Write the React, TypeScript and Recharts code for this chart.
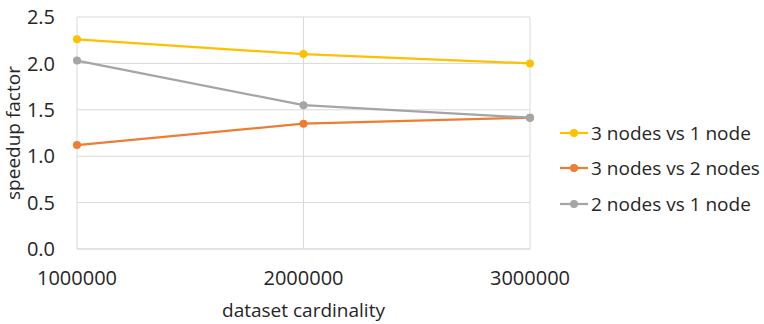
import React from 'react';
import { LineChart, Line, XAxis, YAxis, CartesianGrid, Label } from 'recharts';

// dataset sizes on the x axis
const cardinalities = ['1000000', '2000000', '3000000'];

// speedup per comparison
const threeVsOne = [2.26, 2.1, 2.0];
const threeVsTwo = [1.12, 1.35, 1.415];
const twoVsOne = [2.03, 1.55, 1.415];

const yTicks = [0, 0.5, 1.0, 1.5, 2.0, 2.5];

const seriesList = [
    { key: 'a', name: '3 nodes vs 1 node', color: '#FFC000' },
    { key: 'b', name: '3 nodes vs 2 nodes', color: '#ED7D31' },
    { key: 'c', name: '2 nodes vs 1 node', color: '#A5A5A5' },
];

const data = cardinalities.map((c, i) => ({
    card: c,
    a: threeVsOne[i],
    b: threeVsTwo[i],
    c: twoVsOne[i],
}));

const FONT = '"Open Sans", sans-serif';
const TEXT = '#262626';

function SideLegend() {
    return (
        <div style={{ position: 'absolute', left: 560, top: 115, fontFamily: FONT, fontSize: 19, color: TEXT }}>
            {seriesList.map((s) => (
                <div key={s.key} style={{ display: 'flex', alignItems: 'center', height: 35.5 }}>
                    <svg width={28} height={10} style={{ marginRight: 3 }}>
                        <line x1={0} y1={5} x2={28} y2={5} stroke={s.color} strokeWidth={2.25} />
                        <circle cx={14} cy={5} r={4} fill={s.color} />
                    </svg>
                    <span>{s.name}</span>
                </div>
            ))}
        </div>
    );
}

export default function App() {
    return (
        <div style={{ position: 'absolute', left: 0, top: 0, width: 764, height: 324, background: '#fff' }}>
            <LineChart width={764} height={324} data={data} margin={{ top: 17, right: 234, left: 0, bottom: 0 }}>
                <CartesianGrid stroke="#d9d9d9" strokeWidth={1} />
                <XAxis
                    dataKey="card"
                    height={75}
                    stroke="#d9d9d9"
                    tickLine={false}
                    tick={{ fill: TEXT, fontSize: 20, fontFamily: FONT }}
                    tickMargin={16}
                >
                    <Label
                        value="dataset cardinality"
                        position="insideBottom"
                        offset={7}
                        style={{ fill: TEXT, fontSize: 19, fontFamily: FONT }}
                    />
                </XAxis>
                <YAxis
                    width={77}
                    domain={[0, 2.5]}
                    ticks={yTicks}
                    tickFormatter={(v: number) => v.toFixed(1)}
                    axisLine={false}
                    tickLine={false}
                    tick={{ fill: TEXT, fontSize: 20, fontFamily: FONT }}
                    tickMargin={16}
                >
                    <Label
                        value="speedup factor"
                        angle={-90}
                        position="insideLeft"
                        offset={13}
                        style={{ fill: TEXT, fontSize: 19, fontFamily: FONT, textAnchor: 'middle' }}
                    />
                </YAxis>
                {seriesList.map((s) => (
                    <Line
                        key={s.key}
                        dataKey={s.key}
                        name={s.name}
                        type="linear"
                        stroke={s.color}
                        strokeWidth={2.25}
                        dot={{ r: 4, fill: s.color, stroke: s.color, strokeWidth: 0 }}
                        activeDot={false}
                        isAnimationActive={false}
                    />
                ))}
            </LineChart>
            <SideLegend />
        </div>
    );
}
